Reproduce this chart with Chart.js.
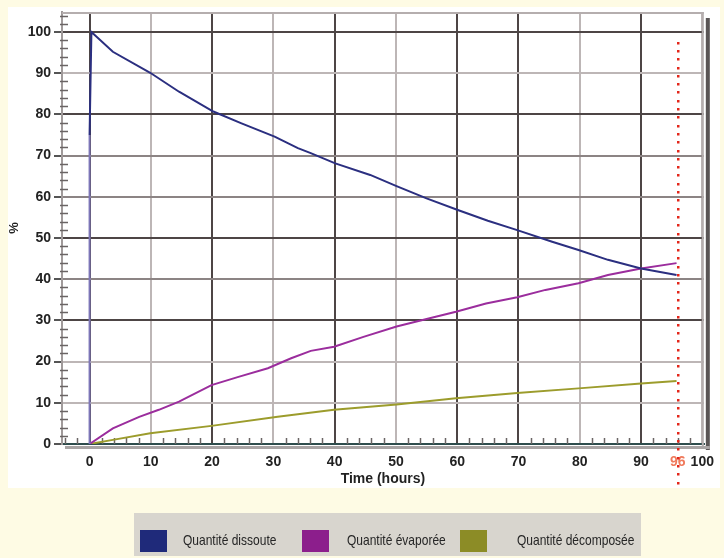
<!DOCTYPE html>
<html><head><meta charset="utf-8">
<script src="https://cdn.jsdelivr.net/npm/chart.js@4.4.1/dist/chart.umd.min.js"></script>
<style>html,body{margin:0;padding:0;background:#fefbe4;}</style>
</head><body>
<canvas id="c" width="724" height="558"></canvas>
<script>
// ---- data ----
const seriesLabels = ['Quantité dissoute', 'Quantité évaporée', 'Quantité décomposée'];
const tDissolved = [0, 0, 0.3, 3.8, 9.9, 14.6, 20.2, 24.8, 30.2, 34, 36.1, 40.1, 45.8, 50.1, 55, 60.1, 65, 69.8, 75.5, 79.8, 84.6, 90, 95.8];
const vDissolved = [0, 75, 100, 95.2, 90.1, 85.5, 80.7, 77.8, 74.6, 71.8, 70.6, 68.1, 65.3, 62.6, 59.6, 56.8, 54.2, 51.9, 49.1, 47.1, 44.7, 42.6, 41.0];
const tEvaporated = [0, 3.8, 8.1, 11.3, 14.6, 19.9, 24.3, 29.1, 32.9, 36.1, 39.9, 44.7, 50.1, 55.5, 59.8, 64.7, 69.8, 74.4, 79.8, 84.6, 90, 95.8];
const vEvaporated = [0, 3.8, 6.6, 8.3, 10.3, 14.3, 16.3, 18.4, 20.8, 22.6, 23.6, 26, 28.5, 30.5, 32.1, 34.1, 35.6, 37.4, 39, 41, 42.6, 43.9];
const tDecomposed = [0, 3.8, 9.9, 19.9, 30.7, 39.9, 50.1, 59.8, 69.8, 79.8, 90, 95.8];
const vDecomposed = [0, 1, 2.6, 4.4, 6.6, 8.3, 9.6, 11.1, 12.4, 13.5, 14.7, 15.3];
const xTicks = [0, 10, 20, 30, 40, 50, 60, 70, 80, 90, 96, 100];
const yTicks = [0, 10, 20, 30, 40, 50, 60, 70, 80, 90, 100];
const markerTime = 96;
const markerTop = 97.4;

const pts = (t, v) => t.map((x, i) => ({x: x, y: v[i]}));

const FONT = "'Liberation Sans', Arial, sans-serif";
const DARK = '#4d4545', MID = '#8c8484', LIGHT = '#bdb6b6';
const xGridStyle = {0: DARK, 10: LIGHT, 20: DARK, 30: LIGHT, 40: DARK, 50: LIGHT, 60: DARK, 70: DARK, 80: LIGHT, 90: DARK, 100: LIGHT};
const yGridStyle = {0: DARK, 10: LIGHT, 20: LIGHT, 30: DARK, 40: MID, 50: DARK, 60: MID, 70: MID, 80: DARK, 90: LIGHT, 100: DARK};
const legendColors = ['#1f2a7a', '#8c1e8c', '#8c8c26'];

const extras = {
  id: 'extras',
  beforeDraw(chart) {
    const c = chart.ctx;
    c.save();
    c.fillStyle = '#fefbe4';
    c.fillRect(0, 0, chart.width, chart.height);
    c.fillStyle = '#ffffff';
    c.fillRect(8, 7, 712, 481);
    c.restore();
  },
  beforeDatasetsDraw(chart) {
    const c = chart.ctx, a = chart.chartArea, xs = chart.scales.x, ys = chart.scales.y;
    c.save();
    c.strokeStyle = '#b5aeae'; c.lineWidth = 2;
    c.beginPath(); c.moveTo(a.left, a.top + 1); c.lineTo(a.right, a.top + 1); c.stroke();
    c.beginPath(); c.moveTo(a.right - 1, a.top); c.lineTo(a.right - 1, a.bottom + 3); c.stroke();
    c.strokeStyle = '#5a5555'; c.lineWidth = 4;
    c.beginPath(); c.moveTo(a.right + 4, a.top + 6); c.lineTo(a.right + 4, a.bottom + 6); c.stroke();
    c.strokeStyle = '#a8a4a4'; c.lineWidth = 3;
    c.beginPath(); c.moveTo(a.left + 3, a.bottom + 3.5); c.lineTo(a.right + 6, a.bottom + 3.5); c.stroke();
    c.strokeStyle = '#6a6464'; c.lineWidth = 1.5;
    for (let v = 2; v < ys.max; v += 2) {
      if (v % 10 === 0) continue;
      const y = Math.round(ys.getPixelForValue(v)) + 0.5;
      c.beginPath(); c.moveTo(a.left - 2, y); c.lineTo(a.left + 6, y); c.stroke();
    }
    for (let v = -4; v < xs.max; v += 2) {
      if (v % 10 === 0) continue;
      const x = Math.round(xs.getPixelForValue(v)) + 0.5;
      c.beginPath(); c.moveTo(x, a.bottom - 6); c.lineTo(x, a.bottom); c.stroke();
    }
    c.restore();
  },
  afterDatasetsDraw(chart) {
    const c = chart.ctx, a = chart.chartArea, xs = chart.scales.x, ys = chart.scales.y;
    c.save();
    const x = Math.round(xs.getPixelForValue(markerTime));
    c.fillStyle = '#e3261a';
    for (let y = ys.getPixelForValue(markerTop); y < a.bottom + 44; y += 8.3) {
      c.fillRect(x - 1, Math.round(y) - 1, 2.5, 2.5);
    }
    c.restore();
  },
  afterDraw(chart) {
    const c = chart.ctx;
    c.save();
    c.fillStyle = '#d8d5ce';
    c.fillRect(134, 513, 507, 43);
    const boxX = [140, 302, 460];
    const textX = [183, 347, 517];
    chart.data.datasets.forEach((ds, i) => {
      c.fillStyle = legendColors[i];
      c.fillRect(boxX[i], 530, 27, 22);
      c.save();
      c.fillStyle = '#262626';
      c.font = "15px " + FONT;
      c.textBaseline = 'middle';
      c.textAlign = 'left';
      c.translate(textX[i], 541);
      c.scale(0.8, 1);
      c.fillText(ds.label, 0, 0);
      c.restore();
    });
    c.restore();
  }
};

new Chart(document.getElementById('c'), {
  type: 'line',
  data: {
    datasets: [
      {label: seriesLabels[0], data: pts(tDissolved, vDissolved), borderColor: '#2b2f80',
       segment: {borderColor: ctx => ctx.p0DataIndex === 0 ? '#7d76b8' : undefined}},
      {label: seriesLabels[1], data: pts(tEvaporated, vEvaporated), borderColor: '#9b2d9d'},
      {label: seriesLabels[2], data: pts(tDecomposed, vDecomposed), borderColor: '#9c9c2c'}
    ]
  },
  options: {
    responsive: false,
    animation: false,
    devicePixelRatio: 1,
    layout: {padding: {left: 0, top: 12, right: 14, bottom: 70}},
    plugins: {legend: {display: false}, tooltip: {enabled: false}},
    elements: {point: {radius: 0}, line: {borderWidth: 2, tension: 0}},
    scales: {
      x: {
        type: 'linear', min: -4.5, max: 100.25,
        afterFit(s) { s.height = 44; },
        afterBuildTicks(s) { s.ticks = xTicks.map(v => ({value: v})); },
        ticks: {autoSkip: false, maxRotation: 0, padding: 10,
          font: {family: FONT, size: 14, weight: 'bold'},
          color: ctx => (ctx.tick && ctx.tick.value === markerTime) ? '#f07a5c' : '#222'},
        grid: {drawTicks: false, lineWidth: 2,
          color: ctx => (ctx.tick && xGridStyle[ctx.tick.value]) || 'rgba(0,0,0,0)'},
        border: {color: '#2e4d4d', width: 2},
        title: {display: true, text: 'Time (hours)', color: '#222', padding: 0,
          font: {family: FONT, size: 14, weight: 'bold'}}
      },
      y: {
        min: 0, max: 104.85,
        afterFit(s) { s.width = 62; },
        afterBuildTicks(s) { s.ticks = yTicks.map(v => ({value: v})); },
        ticks: {padding: 3, color: '#222', font: {family: FONT, size: 14, weight: 'bold'}},
        grid: {tickLength: 8, tickColor: '#555', lineWidth: 2,
          color: ctx => (ctx.tick && yGridStyle[ctx.tick.value]) || 'rgba(0,0,0,0)'},
        border: {color: '#a09a9a', width: 2},
        title: {display: true, text: '%', color: '#222', padding: {top: 7, bottom: 0},
          font: {family: FONT, size: 13, weight: 'bold'}}
      }
    }
  },
  plugins: [extras]
});
</script>
</body></html>
